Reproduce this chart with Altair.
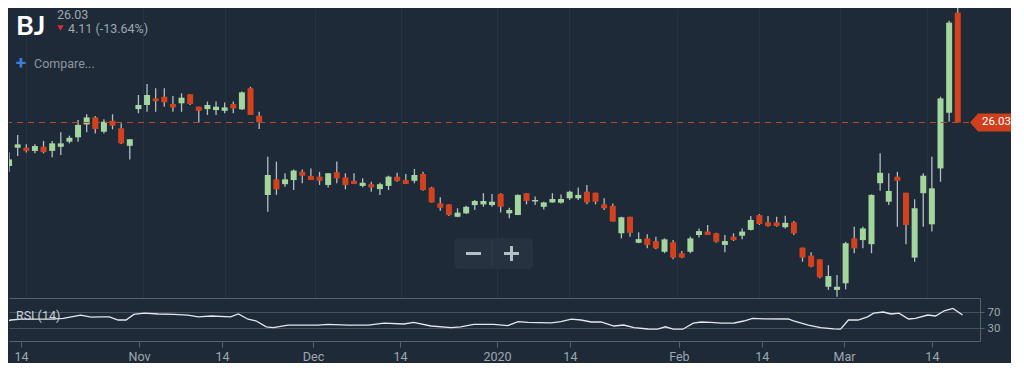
import altair as alt
import pandas as pd

# ---------------- data ----------------
opens = [24.24, 24.99, 24.99, 24.86, 25.03, 24.86, 25.03, 25.24, 25.42, 25.95,
         26.24, 25.65, 26.10, 25.79, 25.07, 26.58, 26.75, 27.02, 27.09, 26.79,
         26.82, 27.19, 26.68, 26.58, 26.54, 26.51, 26.79, 26.57, 27.44, 26.31,
         23.05, 23.69, 23.49, 23.66, 24.00, 23.83, 23.80, 23.46, 23.98, 23.77,
         23.63, 23.42, 23.49, 23.29, 23.42, 23.80, 23.66, 23.63, 23.91, 23.35,
         22.70, 22.66, 22.15, 22.29, 22.63, 22.66, 22.63, 23.09, 22.29, 22.22,
         23.12, 22.78, 22.56, 22.74, 22.73, 22.91, 22.91, 23.18, 23.14, 22.66,
         22.60, 21.47, 22.15, 21.08, 21.26, 21.15, 20.71, 21.10, 20.65, 20.71,
         21.40, 21.54, 21.47, 20.99, 21.33, 21.37, 21.61, 22.22, 21.92, 21.92,
         21.72, 21.92, 20.88, 20.55, 20.40, 19.27, 19.14, 19.41, 21.26, 21.19,
         21.02, 23.53, 22.77, 23.80, 23.14, 20.47, 23.12, 21.84, 24.14, 26.43,
         30.55]
highs = [24.79, 25.51, 25.13, 25.13, 25.27, 25.27, 25.63, 25.49, 26.13, 26.37,
         26.30, 26.16, 26.37, 26.00, 25.34, 27.16, 27.61, 27.44, 27.44, 27.12,
         27.23, 27.19, 26.68, 26.89, 26.89, 26.85, 26.89, 27.30, 27.50, 26.47,
         24.62, 24.42, 23.94, 24.10, 24.10, 24.14, 24.00, 23.94, 24.42, 23.94,
         23.94, 23.73, 23.59, 23.55, 23.84, 23.96, 23.91, 24.12, 24.00, 23.39,
         22.95, 22.66, 22.50, 22.60, 22.84, 23.12, 23.09, 23.12, 22.52, 23.07,
         23.12, 22.98, 22.77, 23.12, 23.07, 23.22, 23.35, 23.46, 23.14, 22.91,
         22.70, 22.15, 22.15, 21.51, 21.43, 21.33, 21.26, 21.19, 20.74, 21.33,
         21.67, 21.81, 21.49, 21.40, 21.47, 21.67, 22.18, 22.26, 22.18, 22.15,
         22.19, 21.98, 20.88, 20.69, 20.40, 20.16, 19.75, 21.12, 21.74, 21.74,
         23.07, 24.76, 23.94, 24.00, 23.14, 22.87, 23.94, 24.62, 27.09, 30.22,
         31.30]
lows = [24.00, 24.65, 24.79, 24.76, 24.76, 24.60, 24.69, 25.17, 25.24, 25.63,
        25.58, 25.58, 25.75, 25.14, 24.51, 26.41, 26.47, 26.47, 26.68, 26.47,
        26.47, 26.75, 26.02, 26.34, 26.34, 26.41, 26.41, 26.54, 26.34, 25.76,
        22.36, 23.05, 23.39, 23.25, 23.53, 23.66, 23.46, 23.35, 23.53, 23.28,
        23.50, 23.36, 23.18, 23.05, 23.25, 23.59, 23.50, 23.53, 23.22, 22.74,
        22.40, 22.18, 22.13, 22.26, 22.43, 22.56, 22.56, 22.33, 22.09, 22.22,
        22.66, 22.63, 22.45, 22.73, 22.70, 22.84, 22.84, 22.66, 22.66, 22.43,
        21.95, 21.26, 21.33, 21.06, 20.85, 20.81, 20.65, 20.40, 20.44, 20.65,
        21.30, 21.40, 21.08, 20.69, 21.15, 21.22, 21.58, 21.81, 21.74, 21.74,
        21.67, 21.40, 20.30, 20.07, 19.62, 19.14, 18.86, 19.16, 20.65, 20.85,
        20.65, 23.22, 22.63, 21.74, 21.02, 20.30, 21.74, 21.54, 23.59, 26.06,
        26.03]
closes = [24.51, 25.13, 24.86, 25.06, 24.81, 25.17, 25.17, 25.40, 25.93, 26.24,
          25.76, 26.06, 25.90, 25.17, 25.34, 26.75, 27.16, 26.91, 26.86, 26.65,
          27.05, 26.79, 26.51, 26.75, 26.68, 26.65, 26.61, 27.27, 26.34, 26.04,
          23.87, 23.28, 23.69, 24.05, 23.84, 23.66, 23.63, 23.94, 23.73, 23.46,
          23.50, 23.55, 23.36, 23.49, 23.80, 23.62, 23.50, 23.87, 23.25, 22.74,
          22.52, 22.22, 22.32, 22.56, 22.80, 22.80, 22.77, 22.56, 22.43, 23.05,
          22.80, 22.84, 22.74, 22.88, 22.88, 23.18, 23.05, 22.74, 22.77, 22.50,
          21.95, 22.13, 21.49, 21.23, 20.99, 20.85, 21.22, 20.47, 20.47, 21.26,
          21.56, 21.40, 21.12, 21.15, 21.19, 21.54, 22.02, 21.85, 21.77, 21.77,
          21.90, 21.47, 20.47, 20.10, 19.66, 19.71, 19.27, 21.06, 20.85, 21.67,
          23.05, 23.96, 23.21, 23.63, 21.81, 22.50, 23.84, 23.32, 27.02, 30.14,
          26.03]

rsi_pos = [-0.3, 0.8, 2.0, 3.4, 5.4, 6.8, 8.8, 10.0, 11.1, 12.1, 13.1, 14.0, 14.9,
           16.1, 17.7, 19.5, 21.1, 22.3, 23.8, 26.0, 26.9, 28.0, 28.9, 30.1, 30.9,
           32.6, 34.1, 36.0, 37.2, 39.5, 41.8, 43.6, 45.9, 47.0, 49.0, 51.3, 52.4,
           53.9, 56.2, 57.8, 59.0, 60.1, 62.8, 63.9, 65.1, 66.2, 67.4, 68.5, 70.0,
           71.1, 72.3, 73.9, 75.0, 75.9, 76.8, 77.9, 79.1, 80.0, 81.1, 82.3, 83.8,
           84.9, 85.9, 87.2, 90.0, 90.6, 92.3, 93.7, 95.2, 96.0, 96.9, 98.0, 99.1,
           99.8, 100.9, 101.8, 102.7, 103.8, 104.6, 106.0, 106.9, 107.9, 108.9, 110.0]
rsi_vals = [44, 50, 52, 52, 52, 54, 62, 57, 58, 58, 50, 50, 64,
            67, 65, 64, 62, 58, 60, 58, 65, 52, 48, 33, 31,
            37, 37, 37, 39, 37, 37, 42, 40, 44, 35, 31, 33,
            39, 39, 36, 46, 44, 43, 46, 52, 50, 45, 45, 35,
            37.5, 31, 27.5, 27, 33, 27, 27, 42, 45, 44, 42, 42.5,
            47.5, 54, 53, 52.5, 48, 37, 31, 28, 27, 50, 50, 58,
            67, 70, 65, 67, 52.5, 54, 62.5, 60, 73, 79, 62.5]

tick_pos = [1.95, 15.49, 25.01, 35.46, 45.44, 56.57, 64.94, 77.45, 86.97, 96.39, 106.48]
tick_labels = ["14", "Nov", "14", "Dec", "14", "2020", "14", "Feb", "14", "Mar", "14"]
price_ticks = [20, 22.5, 25, 27.5, 30]
rsi_levels = [30, 70]
last_price = 26.03
ticker = "BJ"
price_text = "26.03"
change_text = "4.11 (-13.64%)"
compare_text = "Compare..."
rsi_name = "RSI (14)"

# ---------------- styling ----------------
BG = "#1e2a37"
GRID = "#263441"
BORDER = "#56616d"
RSI_GRID = "#45515d"
LABEL = "#9ea7b0"
GREEN = "#a3d69d"
RED = "#d4421d"
WICK = "#b4bdc6"
DASH = "#b9472a"
TAG = "#cf3f1d"
FONT = "Roboto"

W = 971
H_MAIN = 290
H_RSI = 43

candles = pd.DataFrame({
    "i": list(range(len(opens))),
    "open": opens, "high": highs, "low": lows, "close": closes,
})
candles["dir"] = ["up" if c >= o else "down" for o, c in zip(opens, closes)]
rsi_df = pd.DataFrame({"p": rsi_pos, "r": rsi_vals})

x_scale = alt.Scale(domain=[0.574, 112.0], nice=False, zero=False)
price_scale = alt.Scale(domain=[18.807, 30.741], nice=False, zero=False)
rsi_scale = alt.Scale(domain=[-2.5, 105], nice=False, zero=False)

mids = [(tick_pos[k] + tick_pos[k + 1]) / 2 for k in range(len(tick_pos) - 1)]
label_expr = "".join(f"datum.value < {m:.2f} ? '{lab}' : " for m, lab in zip(mids, tick_labels[:-1]))
label_expr += f"'{tick_labels[-1]}'"

main_x_axis = alt.Axis(values=tick_pos, labels=False, ticks=False, domain=True,
                       domainColor=BORDER, grid=True, gridColor=GRID, title=None)
price_axis = alt.Axis(orient="right", values=price_ticks, format=".2f", title=None,
                      labelColor=LABEL, labelFont=FONT, labelFontSize=11.5,
                      tickSize=4, tickColor=BORDER, domainColor=BORDER,
                      grid=True, gridColor=GRID, labelPadding=3)

xq = alt.X("i:Q", scale=x_scale, axis=main_x_axis)

wicks = alt.Chart(candles).mark_rule(color=WICK, strokeWidth=1.3, clip=True).encode(
    x=xq,
    y=alt.Y("low:Q", scale=price_scale, axis=price_axis),
    y2="high:Q",
)
bodies = alt.Chart(candles).mark_bar(size=6, clip=True).encode(
    x=xq,
    y=alt.Y("open:Q", scale=price_scale, axis=price_axis),
    y2="close:Q",
    color=alt.Color("dir:N", scale=alt.Scale(domain=["up", "down"], range=[GREEN, RED]), legend=None),
)

last_df = pd.DataFrame({"p": [last_price], "t": [price_text]})
dash = alt.Chart(last_df).mark_rule(color=DASH, strokeDash=[6, 5], strokeWidth=1.2).encode(
    y=alt.Y("p:Q", scale=price_scale, axis=None),
)
tag_path = "M -1 0 L -0.61 -0.44 L 1 -0.44 L 1 0.44 L -0.61 0.44 Z"
tag = alt.Chart(last_df).mark_point(shape=tag_path, filled=True, fill=TAG, strokeWidth=0,
                                     opacity=1, size=1681).encode(
    x=alt.value(981.5),
    y=alt.Y("p:Q", scale=price_scale, axis=None),
)
tag_text = alt.Chart(last_df).mark_text(color="#ffffff", font=FONT, fontSize=11.5,
                                        align="center", baseline="middle").encode(
    x=alt.value(987.5),
    y=alt.Y("p:Q", scale=price_scale, axis=None),
    text="t:N",
)

# header
hdr = pd.DataFrame({"ticker": [ticker], "price": [price_text], "chg": [change_text],
                    "cmp": [compare_text]})
t_ticker = alt.Chart(hdr).mark_text(font="Lato", fontWeight="bold", fontSize=27,
                                    color="#ffffff", align="left", baseline="alphabetic").encode(
    x=alt.value(7), y=alt.value(26.5), text="ticker:N")
t_price = alt.Chart(hdr).mark_text(font=FONT, fontSize=12.5, color=LABEL, align="left",
                                   baseline="alphabetic").encode(
    x=alt.value(48), y=alt.value(11), text="price:N")
t_arrow = alt.Chart(hdr).mark_point(shape="triangle-down", filled=True, fill="#e0283a",
                                    strokeWidth=0, opacity=1, size=38).encode(
    x=alt.value(51.5), y=alt.value(20))
t_chg = alt.Chart(hdr).mark_text(font=FONT, fontSize=12.5, color=LABEL, align="left",
                                 baseline="alphabetic").encode(
    x=alt.value(59), y=alt.value(24.5), text="chg:N")
t_plus = alt.Chart(hdr).mark_text(font=FONT, fontWeight="bold", fontSize=19, color="#3b7ddb",
                                  align="center", baseline="middle").encode(
    x=alt.value(12), y=alt.value(55), text=alt.value("+"))
t_cmp = alt.Chart(hdr).mark_text(font=FONT, fontSize=12.5, color="#8d97a1", align="left",
                                 baseline="alphabetic").encode(
    x=alt.value(25), y=alt.value(59.5), text="cmp:N")

# zoom widget
w_box = alt.Chart(hdr).mark_rect(fill="#26323f", cornerRadius=4).encode(
    x=alt.value(445), x2=alt.value(524), y=alt.value(230), y2=alt.value(261))
w_sep = alt.Chart(hdr).mark_rule(color="#33404d", strokeWidth=1).encode(
    x=alt.value(483), y=alt.value(233), y2=alt.value(258))
w_minus = alt.Chart(hdr).mark_rule(color="#b6bec6", strokeWidth=3).encode(
    x=alt.value(457), x2=alt.value(472), y=alt.value(245.5))
w_plus_h = alt.Chart(hdr).mark_rule(color="#b6bec6", strokeWidth=3).encode(
    x=alt.value(495), x2=alt.value(510), y=alt.value(245.5))
w_plus_v = alt.Chart(hdr).mark_rule(color="#b6bec6", strokeWidth=3).encode(
    x=alt.value(502.5), y=alt.value(238), y2=alt.value(253))

main = alt.layer(
    wicks, bodies, dash, tag, tag_text,
    t_ticker, t_price, t_arrow, t_chg, t_plus, t_cmp,
    w_box, w_sep, w_minus, w_plus_h, w_plus_v,
).properties(width=W, height=H_MAIN)

# RSI panel
rsi_x_axis = alt.Axis(values=tick_pos, labelExpr=label_expr, title=None, grid=False,
                      labelColor=LABEL, labelFont=FONT, labelFontSize=12.5,
                      tickSize=6, tickColor=BORDER, domainColor=BORDER,
                      labelPadding=3, labelFlush=False, labelOverlap=False, labelBound=False)
rsi_y_axis = alt.Axis(orient="right", values=rsi_levels, title=None, grid=True,
                      gridColor=RSI_GRID, labelColor=LABEL, labelFont=FONT, labelFontSize=11.5,
                      tickSize=4, tickColor=BORDER, domainColor=BORDER, labelPadding=3)

rsi_line = alt.Chart(rsi_df).mark_line(color="#e4e8eb", strokeWidth=1.3, clip=True).encode(
    x=alt.X("p:Q", scale=x_scale, axis=rsi_x_axis),
    y=alt.Y("r:Q", scale=rsi_scale, axis=rsi_y_axis),
)
rsi_lbl = alt.Chart(pd.DataFrame({"t": [rsi_name]})).mark_text(
    font=FONT, fontSize=12.5, color="#c9d0d6", align="left", baseline="middle").encode(
    x=alt.value(7), y=alt.value(18), text="t:N")

rsi = alt.layer(rsi_line, rsi_lbl).properties(width=W, height=H_RSI)

chart = alt.vconcat(main, rsi, spacing=0).properties(
    background=BG, padding=0
).configure_view(strokeWidth=0)

chart.save("out.html", embed_options={"renderer": "svg", "actions": False})
